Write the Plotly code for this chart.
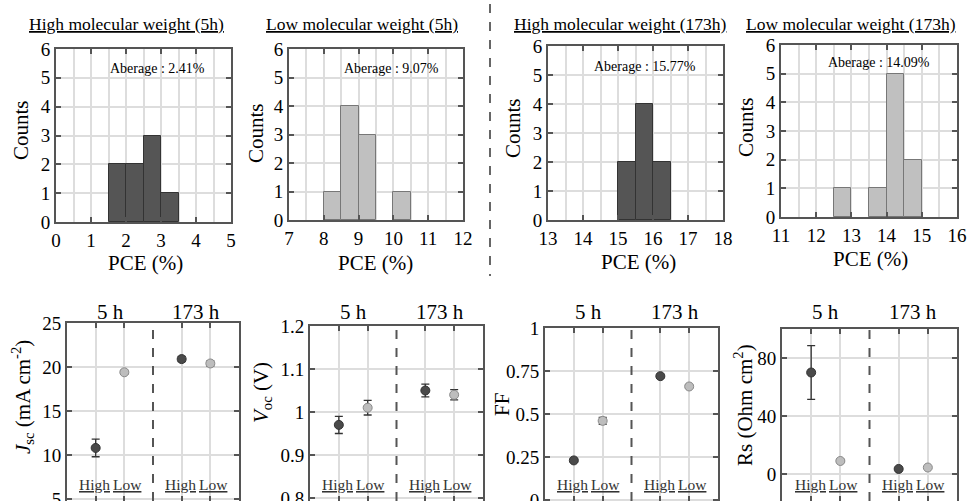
import plotly.graph_objects as go

# ---------------- data ----------------
# PCE histograms: bin centres (0.5 % wide bins) and device counts
pce_high_5h_bins = [1.75, 2.25, 2.75, 3.25]
pce_high_5h_counts = [2, 2, 3, 1]
pce_low_5h_bins = [8.25, 8.75, 9.25, 10.25]
pce_low_5h_counts = [1, 4, 3, 1]
pce_high_173h_bins = [15.25, 15.75, 16.25]
pce_high_173h_counts = [2, 4, 2]
pce_low_173h_bins = [12.75, 13.75, 14.25, 14.75]
pce_low_173h_counts = [1, 1, 5, 2]

hist_titles = ["High molecular weight (5h)", "Low molecular weight (5h)",
               "High molecular weight (173h)", "Low molecular weight (173h)"]
hist_averages = ["Aberage : 2.41%", "Aberage : 9.07%",
                 "Aberage : 15.77%", "Aberage : 14.09%"]
hist_xranges = [[0, 5], [7, 12], [13, 18], [11, 16]]

# Device parameters: positions 1,2 = 5 h (High, Low); 4,5 = 173 h (High, Low)
param_pos = [1, 2, 4, 5]
param_groups = ["High", "Low", "High", "Low"]
jsc_mean = [10.8, 19.4, 20.9, 20.4]
jsc_err = [1.0, 0.2, 0.3, 0.3]
voc_mean = [0.97, 1.01, 1.05, 1.04]
voc_err = [0.02, 0.017, 0.015, 0.012]
ff_mean = [0.23, 0.46, 0.72, 0.66]
ff_err = [0.01, 0.02, 0.01, 0.01]
rs_mean = [70, 9, 3.5, 4.5]
rs_err = [18.5, 1.0, 0.6, 0.6]

# ---------------- styling ----------------
W, H = 967, 501
SERIF = "Liberation Serif"
FRAME = "#555555"
GRID = "#dddddd"
DARK = "#555555"
LIGHT = "#c0c0c0"


def xdom(a, b):
    return [a / W, b / W]


def ydom(top, bottom):
    return [max(0, 1 - bottom / H), 1 - top / H]


def px(x):
    return x / W


def py(y):
    return 1 - y / H


def label(text, x, y, size, xref="paper", angle=0, color="black", xshift=0):
    return dict(text=text, x=x, y=y, xref=xref, yref="paper", showarrow=False,
                xanchor="center", yanchor="middle", textangle=angle, xshift=xshift,
                font=dict(size=size, family=SERIF, color=color))


fig = go.Figure()
layout = dict(
    width=W, height=H, margin=dict(l=0, r=0, t=0, b=0, autoexpand=False),
    paper_bgcolor="white", plot_bgcolor="white",
    showlegend=False, bargap=0, font=dict(family=SERIF, color="black"),
)
annotations = []
shapes = []

axis_common = dict(
    showline=True, linecolor=FRAME, linewidth=2, mirror="ticks",
    ticks="inside", ticklen=5, tickwidth=2, tickcolor=FRAME,
    gridcolor=GRID, gridwidth=1.5, zeroline=False, automargin=False,
    tickfont=dict(family=SERIF, size=19, color="black"),
)

# ---------------- top row: PCE histograms ----------------
hist_boxes = [(56, 231, 49, 222), (289, 463, 49, 220),
              (548, 723, 46, 220), (781, 957, 45, 217)]
hist_data = [(pce_high_5h_bins, pce_high_5h_counts, DARK, "#333333"),
             (pce_low_5h_bins, pce_low_5h_counts, LIGHT, "#777777"),
             (pce_high_173h_bins, pce_high_173h_counts, DARK, "#333333"),
             (pce_low_173h_bins, pce_low_173h_counts, LIGHT, "#777777")]
title_cx = [126, 362, 620, 851]
avg_pos = [(157, 68), (391, 68), (645, 67), (879, 63)]
pce_lbl = [(145, 263), (375, 263), (638, 262), (870, 259)]
counts_lbl = [(21, 130), (256, 133), (513, 128), (746, 127)]

for i, ((x0, x1, y0, y1), (bins, counts, fill, edge)) in enumerate(zip(hist_boxes, hist_data)):
    n = i + 1
    sfx = "" if n == 1 else str(n)
    fig.add_trace(go.Bar(
        x=bins, y=counts, width=0.5,
        marker=dict(color=fill, line=dict(color=edge, width=1)),
        xaxis=f"x{sfx}", yaxis=f"y{sfx}",
    ))
    layout[f"xaxis{sfx}"] = dict(axis_common, domain=xdom(x0, x1), range=hist_xranges[i],
                                 dtick=1, anchor=f"y{sfx}",
                                 minor=dict(dtick=0.5, showgrid=True, gridcolor=GRID, ticks=""))
    layout[f"yaxis{sfx}"] = dict(axis_common, domain=ydom(y0, y1), range=[0, 6], dtick=1,
                                 anchor=f"x{sfx}")
    annotations.append(label(f"<u>{hist_titles[i]}</u>", px(title_cx[i]), py(24), 17.5))
    ax, ay = avg_pos[i]
    annotations.append(label(hist_averages[i], px(ax), py(ay), 14))
    lx, ly = pce_lbl[i]
    annotations.append(label("PCE (%)", px(lx), py(ly), 21))
    cx, cy = counts_lbl[i]
    annotations.append(label("Counts", px(cx), py(cy), 21, angle=-90))

# dashed separator between the 5 h and 173 h histograms
shapes.append(dict(type="line", xref="paper", yref="paper",
                   x0=px(490), x1=px(490), y0=py(4), y1=py(276),
                   line=dict(color="#666666", width=2, dash="dash")))

# ---------------- bottom row: device parameters ----------------
param_boxes = [(67, 239, 323), (310, 483, 326), (545, 718, 328), (782, 957, 329)]
param_data = [(jsc_mean, jsc_err), (voc_mean, voc_err), (ff_mean, ff_err), (rs_mean, rs_err)]
param_yranges = [[4.77, 25], [0.793, 1.2], [-0.006, 1], [-18.6, 100]]
param_dticks = [5, 0.1, 0.25, 40]
param_ylabels = ["<i>J</i><sub>sc</sub> (mA cm<sup>-2</sup>)", "<i>V</i><sub>oc</sub> (V)",
                 "FF", "Rs (Ohm cm<sup>2</sup>)"]
param_ylbl_pos = [(22, 397), (262, 393), (502, 405), (743, 405)]
marker_colors = ["#4a4a4a", "#bdbdbd", "#4a4a4a", "#bdbdbd"]
marker_lines = ["#333333", "#8a8a8a", "#333333", "#8a8a8a"]
group_shift = {"High": -1, "Low": 3}

for j, ((x0, x1, y0), (vals, errs)) in enumerate(zip(param_boxes, param_data)):
    n = j + 5
    fig.add_trace(go.Scatter(
        x=param_pos, y=vals, mode="markers",
        marker=dict(size=9, color=marker_colors, line=dict(color=marker_lines, width=1)),
        error_y=dict(type="data", array=errs, visible=True, color="#333333",
                     thickness=1.3, width=4),
        xaxis=f"x{n}", yaxis=f"y{n}",
    ))
    layout[f"xaxis{n}"] = dict(axis_common, domain=xdom(x0, x1), range=[0, 6],
                               tickvals=param_pos, showticklabels=False, anchor=f"y{n}")
    layout[f"yaxis{n}"] = dict(axis_common, domain=ydom(y0, H), range=param_yranges[j],
                               dtick=param_dticks[j], tick0=0, tickformat="~g",
                               ticklabeloverflow="allow", anchor=f"x{n}")
    # dashed divider between the 5 h and 173 h groups
    shapes.append(dict(type="line", xref=f"x{n}", yref=f"y{n} domain",
                       x0=3, x1=3, y0=0, y1=1,
                       line=dict(color="#555555", width=2, dash="dash")))
    for pos, grp in zip(param_pos, param_groups):
        annotations.append(label(f"<u>{grp}</u>", pos, py(484), 15.5,
                                 xref=f"x{n}", color="#333333", xshift=group_shift[grp]))
    annotations.append(label("5 h", 1.5, py(312), 21, xref=f"x{n}"))
    annotations.append(label("173 h", 4.5, py(312), 21, xref=f"x{n}"))
    lx, ly = param_ylbl_pos[j]
    annotations.append(label(param_ylabels[j], px(lx), py(ly), 21, angle=-90))

layout["annotations"] = annotations
layout["shapes"] = shapes
fig.update_layout(**layout)
fig.write_html("out.html")
